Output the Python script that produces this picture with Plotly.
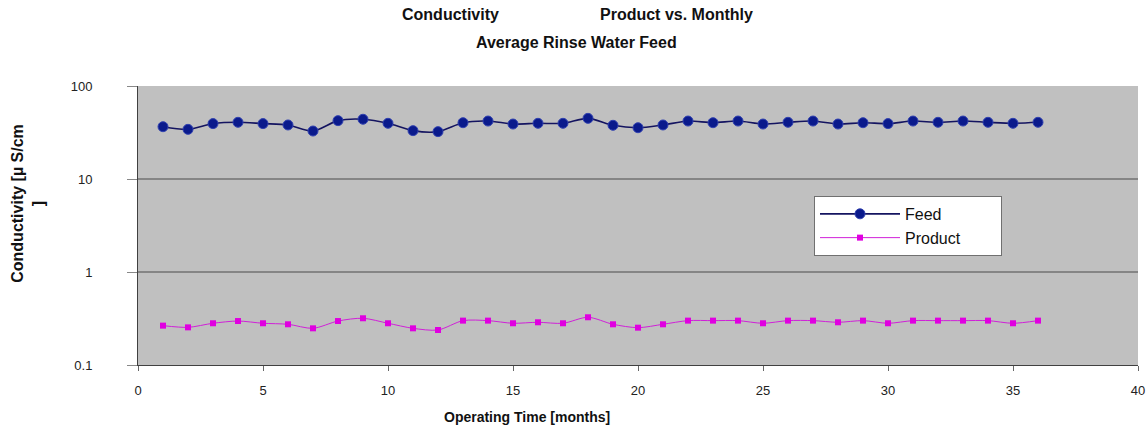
import plotly.graph_objects as go

# Monthly averages of rinse water conductivity
months = list(range(1, 37))
feed = [36.5, 34.2, 39.4, 40.7, 39.4, 38.1, 32.8, 42.4, 43.9, 39.7, 33.1, 32.3,
        40.3, 42.0, 39.0, 39.7, 39.7, 44.9, 37.8, 35.6, 38.1, 42.0, 40.3, 42.0,
        39.0, 40.7, 42.0, 39.0, 40.3, 39.4, 42.0, 40.7, 42.0, 40.7, 39.7, 40.7]
product = [0.265, 0.254, 0.281, 0.297, 0.281, 0.274, 0.248, 0.297, 0.318, 0.281, 0.248, 0.238,
           0.300, 0.300, 0.281, 0.288, 0.281, 0.326, 0.274, 0.252, 0.274, 0.300, 0.300, 0.300,
           0.281, 0.300, 0.300, 0.288, 0.300, 0.281, 0.300, 0.300, 0.300, 0.300, 0.281, 0.300]

x_ticks = [0, 5, 10, 15, 20, 25, 30, 35, 40]
y_ticks = [0.1, 1, 10, 100]
y_tick_text = ["0.1", "1", "10", "100"]

FONT = "Liberation Sans, Arial, sans-serif"
PAD = "\u00a0" * 8  # widens the legend box

fig = go.Figure()
fig.add_trace(go.Scatter(
    x=months, y=feed, name="Feed" + PAD, mode="lines+markers",
    line=dict(color="#141460", width=1.6, shape="spline", smoothing=0.8),
    marker=dict(symbol="circle", size=10, color="#0a1a8c",
                line=dict(color="#3040b0", width=1)),
    legendgroup="a",
))
fig.add_trace(go.Scatter(
    x=months, y=product, name="Product" + PAD, mode="lines+markers",
    line=dict(color="#d020d8", width=1, shape="spline", smoothing=0.8),
    marker=dict(symbol="square", size=6, color="#e000e0"),
    legendgroup="b",
))

fig.update_layout(
    width=1147, height=428,
    margin=dict(l=138, r=2, t=86, b=63),
    paper_bgcolor="white",
    plot_bgcolor="#c0c0c0",
    font=dict(family=FONT, size=13, color="#222222"),
    showlegend=True,
    legend=dict(
        x=0.676, y=0.606, xanchor="left", yanchor="top",
        bgcolor="white", bordercolor="#707070", borderwidth=1,
        font=dict(family=FONT, size=16, color="#111111"),
        tracegroupgap=0, itemwidth=80,
    ),
    xaxis=dict(
        range=[0, 40], tickvals=x_ticks, ticks="outside", ticklen=5,
        tickcolor="#666666", showgrid=False, zeroline=False,
        showline=True, linecolor="#404040", linewidth=1,
        ticklabelstandoff=8, ticklabeloverflow="allow",
        tickfont=dict(family=FONT, size=13, color="#222222"),
    ),
    yaxis=dict(
        type="log", range=[-1, 2], tickvals=y_ticks, ticktext=y_tick_text,
        ticks="outside", ticklen=10, tickcolor="#888888",
        showgrid=True, gridcolor="#858585", gridwidth=2,
        showline=True, linecolor="#404040", linewidth=1, zeroline=False,
        ticklabelstandoff=32,
        tickfont=dict(family=FONT, size=13, color="#222222"),
    ),
    annotations=[
        dict(text="<b>Conductivity</b>", x=453, y=15, xref="paper", yref="paper",
             showarrow=False, font=dict(family=FONT, size=16, color="#111111")),
        dict(text="<b>Product vs. Monthly</b>", x=680, y=15, xref="paper", yref="paper",
             showarrow=False, font=dict(family=FONT, size=16, color="#111111")),
        dict(text="<b>Average Rinse Water Feed</b>", x=580, y=42, xref="paper", yref="paper",
             showarrow=False, font=dict(family=FONT, size=16, color="#111111")),
        dict(text="<b>Operating Time [months]</b>", x=530, y=417, xref="paper", yref="paper",
             showarrow=False, font=dict(family=FONT, size=14, color="#111111")),
        dict(text="<b>Conductivity [µ S/cm<br>]</b>", x=27, y=203, xref="paper", yref="paper",
             textangle=-90, showarrow=False,
             font=dict(family=FONT, size=16, color="#111111")),
    ],
)

# Position the free-floating text in pixel terms
W, H = 1147, 428
L, R, T, B = 138, 2, 86, 63
pw, ph = W - L - R, H - T - B
for a in fig.layout.annotations:
    a.x = (a.x - L) / pw
    a.y = (H - B - a.y) / ph
    a.xanchor = "center"
    a.yanchor = "middle"

fig.write_html("out.html")
